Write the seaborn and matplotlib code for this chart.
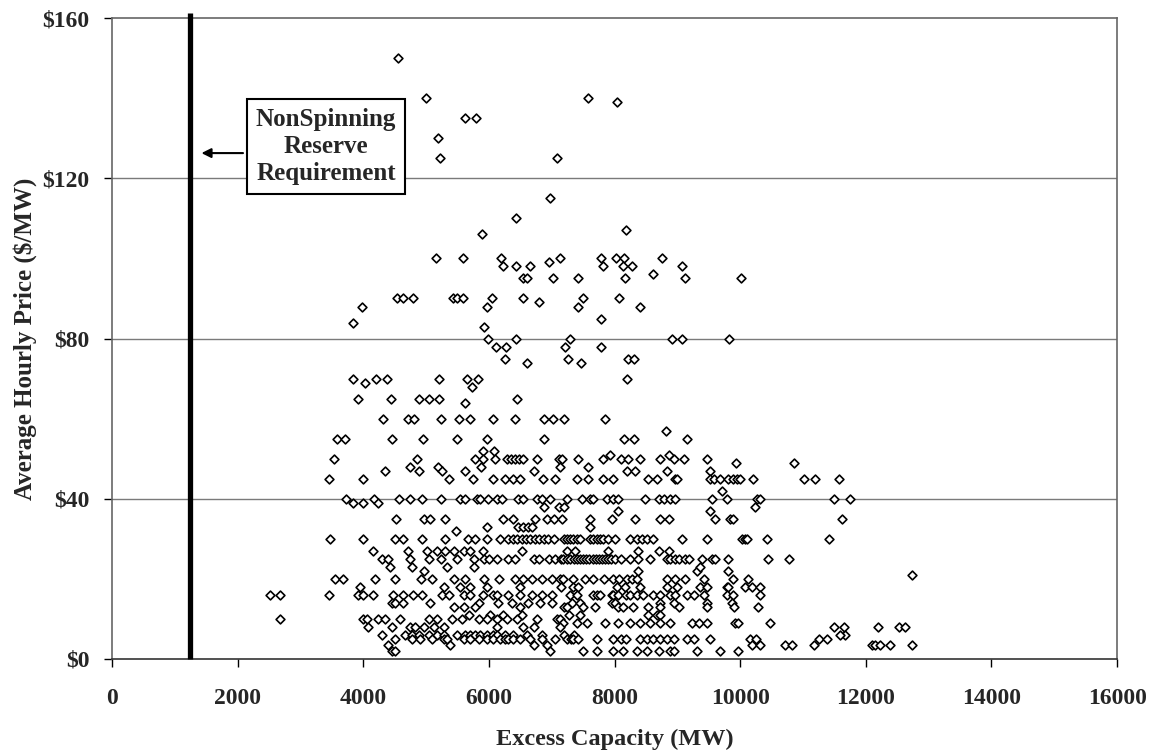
import numpy as np
import pandas as pd
import seaborn as sns
import matplotlib.pyplot as plt

# (excess capacity MW, average hourly price $/MW)
pts_high = [
    (4550, 150), (5000, 140), (5620, 135), (5800, 135), (5190, 130), (5220, 125),
    (7570, 140), (8040, 139), (7080, 125), (6980, 115), (6430, 110), (5890, 106), (8190, 107),
    (5150, 100), (5580, 100), (6190, 100), (6230, 98), (6430, 98), (6650, 98), (6950, 99),
    (7130, 100), (6540, 95), (6600, 95), (7020, 95), (7420, 95),
    (4530, 90), (4640, 90), (4790, 90), (5430, 90), (5490, 90), (5580, 90), (6050, 90),
    (5970, 88), (6550, 90), (6790, 89), (7420, 88), (3980, 88), (3830, 84), (5920, 83),
    (5990, 80), (6430, 80), (7290, 80), (6120, 78), (6280, 78), (7210, 78), (6260, 75),
    (6600, 74), (7260, 75),
    (3840, 70), (4030, 69), (4210, 70), (4370, 70), (5210, 70), (5650, 70), (5830, 70),
    (5730, 68), (3920, 65), (4440, 65), (4880, 65), (5040, 65), (5210, 65), (5620, 64), (6450, 65),
    (7790, 100), (7820, 98), (8020, 100), (8150, 100), (8140, 98), (8270, 98), (8760, 100),
    (9070, 98), (8170, 95), (9120, 95), (10020, 95), (8620, 96),
    (7500, 90), (8070, 90), (8400, 88), (7790, 85), (8910, 80), (9070, 80), (9820, 80),
    (7790, 78), (7470, 74), (8220, 75), (8310, 75), (8200, 70),
]

pts_mid = [
    (4320, 60), (4720, 60), (4800, 60), (5230, 60), (5530, 60), (5700, 60), (6070, 60),
    (6420, 60), (6870, 60), (7020, 60), (7200, 60), (7850, 60),
    (3580, 55), (3710, 55), (4460, 55), (4950, 55), (5500, 55), (5970, 55), (6880, 55),
    (8820, 57), (8150, 55), (8310, 55), (9150, 55), (5910, 52), (6080, 52),
    (3540, 50), (4860, 50), (5780, 50), (5900, 50), (6090, 50), (6290, 50), (6350, 50),
    (6420, 50), (6480, 50), (6550, 50), (6760, 50), (7110, 50), (7160, 50), (7420, 50),
    (7820, 50), (7920, 51), (8110, 50), (8220, 50), (8410, 50), (8720, 50), (8860, 51),
    (8940, 50), (9110, 50), (9470, 50),
    (4350, 47), (4740, 48), (4880, 47), (5190, 48), (5250, 47), (5620, 47), (5880, 48),
    (6720, 47), (7130, 48), (7570, 48), (8200, 47), (8330, 47), (8830, 47), (9520, 47),
    (9940, 49), (10850, 49),
    (3460, 45), (3990, 45), (5370, 45), (5740, 45), (6060, 45), (6260, 45), (6390, 45),
    (6500, 45), (6860, 45), (7060, 45), (7400, 45), (7580, 45), (7820, 45), (7980, 45),
    (8540, 45), (8670, 45), (8960, 45), (8990, 45), (9520, 45), (9580, 45), (9680, 45),
    (9810, 45), (9890, 45), (9950, 45), (10000, 45), (10210, 45), (11010, 45), (11190, 45),
    (11570, 45), (9710, 42),
    (3720, 40), (3840, 39), (3990, 39), (4170, 40), (4240, 39), (4570, 40), (4750, 40),
    (4940, 40), (5240, 40), (5540, 40), (5620, 40), (5810, 40), (5860, 40), (5990, 40),
    (6130, 40), (6210, 40), (6470, 40), (6550, 40), (6760, 40), (6840, 40), (6980, 40),
    (7240, 40), (7480, 40), (7610, 40), (7660, 40), (7880, 40), (7980, 40), (8060, 40),
    (8490, 40), (8700, 40), (8780, 40), (8880, 40), (8960, 40), (9550, 40), (9790, 40),
    (10270, 40), (10320, 40), (11490, 40), (11750, 40),
    (6870, 38), (7110, 38), (7190, 38), (10240, 38), (8060, 37), (9520, 37),
]

pts_low = [
    (4520, 35), (4960, 35), (5070, 35), (5300, 35), (6230, 35), (6390, 35), (6740, 35),
    (6920, 35), (7030, 35), (7160, 35), (7610, 35), (7960, 35), (8330, 35), (8730, 35),
    (8860, 35), (9600, 35), (9840, 35), (9890, 35), (11620, 35),
    (5970, 33), (6470, 33), (6550, 33), (6630, 33), (6680, 33), (5480, 32), (7610, 33),
    (3470, 30), (3990, 30), (4500, 30), (4640, 30), (4940, 30), (5300, 30), (5670, 30),
    (5780, 30), (5970, 30), (6180, 30), (6310, 30), (6380, 30), (6450, 30), (6520, 30),
    (6590, 30), (6660, 30), (6730, 30), (6800, 30), (6870, 30), (6940, 30), (7030, 30),
    (7190, 30), (7240, 30), (7290, 30), (7340, 30), (7400, 30), (7450, 30), (7610, 30),
    (7660, 30), (7720, 30), (7770, 30), (7820, 30), (7900, 30), (8010, 30), (8250, 30),
    (8350, 30), (8440, 30), (8510, 30), (8620, 30), (9070, 30), (9470, 30), (10030, 30),
    (10080, 30), (10110, 30), (10420, 30), (11410, 30),
    (4150, 27), (4720, 27), (5010, 27), (5170, 27), (5300, 27), (5440, 27), (5600, 27),
    (5700, 27), (5910, 27), (6530, 27), (7240, 27), (7370, 27), (7900, 27), (8380, 27),
    (8700, 27), (8860, 27),
    (4300, 25), (4400, 25), (4750, 25), (5040, 25), (5230, 25), (5490, 25), (5760, 25),
    (5920, 25), (6000, 25), (6130, 25), (6310, 25), (6420, 25), (6710, 25), (6790, 25),
    (6950, 25), (7050, 25), (7140, 25), (7180, 25), (7240, 25), (7290, 25), (7350, 25),
    (7400, 25), (7450, 25), (7500, 25), (7550, 25), (7600, 25), (7650, 25), (7700, 25),
    (7750, 25), (7800, 25), (7850, 25), (7900, 25), (7950, 25), (8000, 25), (8100, 25),
    (8250, 25), (8380, 25), (8560, 25), (8830, 25), (8880, 25), (8960, 25), (9020, 25),
    (9120, 25), (9180, 25), (9390, 25), (9550, 25), (9600, 25), (9810, 25), (10450, 25),
    (10770, 25),
    (4430, 23), (4770, 23), (4960, 22), (5330, 23), (5760, 23), (8380, 22), (9310, 22),
    (9360, 23), (9810, 22),
    (3550, 20), (3680, 20), (4190, 20), (4500, 20), (4920, 20), (5100, 20), (5450, 20),
    (5620, 20), (5920, 20), (6160, 20), (6420, 20), (6550, 20), (6690, 20), (6840, 20),
    (7000, 20), (7130, 20), (7180, 20), (7340, 20), (7530, 20), (7660, 20), (7840, 20),
    (7980, 20), (8070, 20), (8200, 20), (8280, 20), (8360, 20), (8830, 20), (8960, 20),
    (9120, 20), (9420, 20), (9890, 20), (10130, 20), (12740, 21),
    (3950, 18), (5280, 18), (5540, 18), (5700, 18), (5970, 18), (6500, 18), (7140, 18),
    (7340, 18), (7420, 18), (8040, 18), (8170, 18), (8410, 18), (8830, 18), (8990, 18),
    (9360, 18), (9470, 18), (9790, 18), (9810, 18), (10080, 18), (10190, 18), (10320, 18),
    (2520, 16), (2680, 16), (3460, 16), (3920, 16), (4000, 16), (4160, 16), (4480, 16),
    (4640, 16), (4790, 16), (4930, 16), (5250, 16), (5360, 16), (5600, 16), (5700, 16),
    (5910, 16), (6070, 16), (6130, 16), (6310, 16), (6500, 16), (6690, 16), (6850, 16),
    (7010, 16), (7290, 16), (7400, 16), (7660, 16), (7720, 16), (7770, 16), (7960, 16),
    (7980, 16), (8060, 16), (8190, 16), (8250, 16), (8360, 16), (8460, 16), (8620, 16),
    (8730, 16), (8890, 16), (8970, 16), (9150, 16), (9260, 16), (9420, 16), (9790, 16),
    (9890, 16), (10320, 16),
    (4460, 14), (4510, 14), (4640, 14), (5070, 14), (5840, 14), (6150, 14), (6370, 14),
    (6630, 14), (6820, 14), (7010, 14), (7320, 14), (7450, 14), (7960, 14), (8010, 14),
    (8720, 14), (8940, 14), (9470, 14), (9870, 14),
    (5440, 13), (5600, 13), (5780, 13), (6500, 13), (7190, 13), (7240, 13), (7500, 13),
    (7690, 13), (8060, 13), (8140, 13), (8300, 13), (8540, 13), (8730, 13), (9020, 13),
    (9470, 13), (9900, 13), (10290, 13),
    (5680, 11), (6020, 11), (6230, 11), (6530, 11), (7270, 11), (7450, 11), (8540, 11),
    (8670, 11), (8730, 11),
    (2680, 10), (4000, 10), (4060, 10), (4240, 10), (4350, 10), (4580, 10), (5040, 10),
    (5170, 10), (5410, 10), (5570, 10), (5840, 10), (5970, 10), (6130, 10), (6290, 10),
    (6450, 10), (6760, 10), (7080, 10), (7130, 10), (7180, 9), (7400, 9), (7560, 9),
    (7850, 9), (8060, 9), (8250, 9), (8410, 9), (8570, 9), (8730, 9), (8890, 9),
    (9230, 9), (9340, 9), (9470, 9), (9920, 9), (9970, 9), (10480, 9),
    (4080, 8), (4450, 8), (4750, 8), (4830, 8), (4960, 8), (5120, 8), (5280, 8),
    (6130, 8), (6550, 8), (6710, 8), (7130, 8), (11490, 8), (11650, 8), (12200, 8),
    (12520, 8), (12630, 8),
    (4300, 6), (4670, 6), (4770, 6), (4880, 6), (5040, 6), (5170, 6), (5280, 6),
    (5490, 6), (5620, 6), (5700, 6), (5780, 6), (5860, 6), (5970, 6), (6070, 6),
    (6130, 6), (6260, 6), (6390, 6), (6610, 6), (6840, 6), (7190, 6), (7350, 6),
    (11670, 6), (11590, 6),
    (4510, 5), (4770, 5), (4910, 5), (5090, 5), (5280, 5), (5330, 5), (5600, 5),
    (5700, 5), (5840, 5), (5970, 5), (6070, 5), (6180, 5), (6260, 5), (6310, 5),
    (6390, 5), (6500, 5), (6660, 5), (6840, 5), (7060, 5), (7240, 5), (7300, 5),
    (7340, 5), (7420, 5), (7720, 5), (7980, 5), (8110, 5), (8190, 5), (8400, 5),
    (8510, 5), (8620, 5), (8720, 5), (8830, 5), (8940, 5), (9150, 5), (9260, 5),
    (9520, 5), (10160, 5), (10250, 5), (11250, 5), (11380, 5),
    (4400, 3.5), (5380, 3.5), (6710, 3.5), (6920, 3.5), (10190, 3.5), (10320, 3.5),
    (10720, 3.5), (10820, 3.5), (11170, 3.5), (12100, 3.5), (12150, 3.5), (12230, 3.5),
    (12390, 3.5), (12730, 3.5),
    (4450, 2), (4510, 2), (6980, 2), (7500, 2), (7720, 2), (7980, 2), (8140, 2),
    (8350, 2), (8510, 2), (8700, 2), (8890, 2), (8950, 2), (9310, 2), (9680, 2), (9970, 2),
]

reserve_requirement = 1240  # MW
x_ticks = [0, 2000, 4000, 6000, 8000, 10000, 12000, 14000, 16000]
y_ticks = [0, 40, 80, 120, 160]
y_labels = ['$0', '$40', '$80', '$120', '$160']

df = pd.DataFrame(pts_high + pts_mid + pts_low, columns=['capacity', 'price'])

sns.set_style('white')
plt.rcParams['font.family'] = ['Liberation Serif', 'DejaVu Serif']
plt.rcParams['font.weight'] = 'bold'

fig = plt.figure(figsize=(11.58, 7.54), dpi=100)
ax = fig.add_axes([0.0967, 0.126, 0.868, 0.850])

for y in [40, 80, 120]:
    ax.axhline(y, color='#7a7a7a', lw=1, zorder=0)

sns.scatterplot(data=df, x='capacity', y='price', ax=ax, marker='D', s=20,
                color='white', edgecolor='black', linewidth=1.2, zorder=3)

# reserve requirement line
ax.plot([reserve_requirement, reserve_requirement], [0, 161.3], color='black',
        lw=3.8, solid_capstyle='butt', clip_on=False, zorder=4)

ax.annotate('', xy=(1380, 126.3), xytext=(2130, 126.3),
            arrowprops=dict(arrowstyle='-|>', color='black', lw=1.5,
                            mutation_scale=14), zorder=5)
ax.text(3407, 128.0, 'NonSpinning\nReserve\nRequirement', ha='center', va='center',
        fontsize=18, fontweight='bold', linespacing=1.22, zorder=6,
        bbox=dict(boxstyle='square,pad=0.36', facecolor='white', edgecolor='black', lw=1.5))

ax.set_xlim(0, 16000)
ax.set_ylim(0, 160)
ax.set_xticks(x_ticks)
ax.set_xticklabels([str(t) for t in x_ticks], fontsize=17, fontweight='bold')
ax.set_yticks(y_ticks)
ax.set_yticklabels(y_labels, fontsize=17, fontweight='bold')
ax.tick_params(axis='both', direction='out', length=6, width=1, color='black',
               bottom=True, left=True)
ax.tick_params(axis='y', pad=10)
ax.tick_params(axis='x', pad=15)

for side in ['top', 'right', 'left', 'bottom']:
    ax.spines[side].set_color('#666666')
    ax.spines[side].set_linewidth(1.2)
ax.spines['bottom'].set_color('#333333')

ax.set_xlabel('Excess Capacity (MW)', fontsize=17.5, fontweight='bold', labelpad=14)
ax.set_ylabel('Average Hourly Price ($/MW)', fontsize=18, fontweight='bold', labelpad=4)

fig.savefig('out.png', dpi=100)
